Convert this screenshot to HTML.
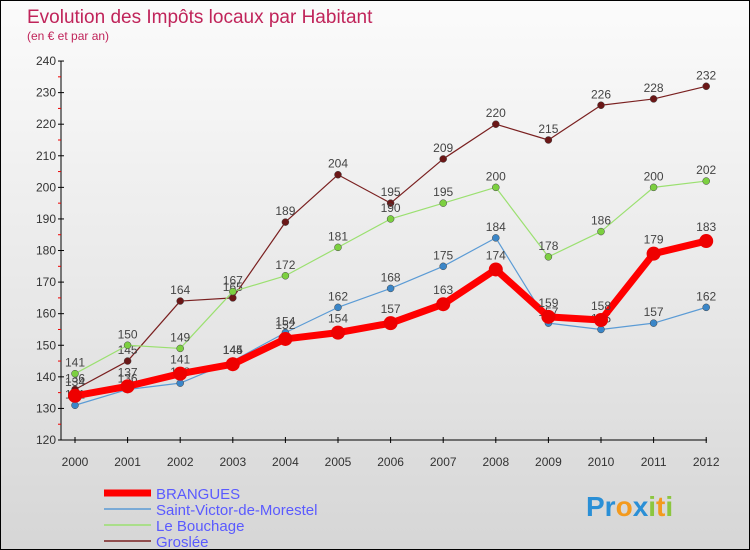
<!DOCTYPE html>
<html><head><meta charset="utf-8"><style>
body{margin:0}
#c{width:748px;height:548px;border:1px solid #000;background:linear-gradient(#fbfbfb,#e6e6e6 60%,#d6d6d6);position:relative;font-family:"Liberation Sans",sans-serif;overflow:hidden}
svg{position:absolute;left:0;top:0}
</style></head><body>
<div id="c">
<svg id="s" width="748" height="548">
<text x="26" y="22" font-size="19" fill="#c0245a">Evolution des Impôts locaux par Habitant</text>
<text x="26" y="39" font-size="12" fill="#c0245a">(en € et par an)</text>
<text x="585" y="515" font-size="28" font-weight="bold"><tspan fill="#2a8fd6">Pr</tspan><tspan fill="#f39a1e">o</tspan><tspan fill="#2a8fd6">x</tspan><tspan fill="#8cc63f">i</tspan><tspan fill="#f39a1e">t</tspan><tspan fill="#8cc63f">i</tspan></text>
</svg>
</div>
<script>
const years=[2000,2001,2002,2003,2004,2005,2006,2007,2008,2009,2010,2011,2012];
const yTicks=[120,130,140,150,160,170,180,190,200,210,220,230,240];
const brangues=[134,137,141,144,152,154,157,163,174,159,158,179,183];
const stVictor=[131,136,138,145,154,162,168,175,184,157,155,157,162];
const bouchage=[141,150,149,167,172,181,190,195,200,178,186,200,202];
const groslee=[136,145,164,165,189,204,195,209,220,215,226,228,232];
const names=["BRANGUES","Saint-Victor-de-Morestel","Le Bouchage","Groslée"];
const NS="http://www.w3.org/2000/svg";
const svg=document.getElementById('s');
const X=i=>74+i*52.6, Y=v=>439-(v-120)*3.158;
function mk(t,a,p){const e=document.createElementNS(NS,t);for(const k in a)e.setAttribute(k,a[k]);(p||svg).appendChild(e);return e;}
// axes
let ax=mk('line',{x1:60,y1:60,x2:60,y2:439,stroke:'#000','stroke-width':1});

let bx=mk('line',{x1:60,y1:439,x2:706,y2:439,stroke:'#000','stroke-width':1});

yTicks.forEach((v,i)=>{
 mk('line',{x1:57,y1:Y(v),x2:63,y2:Y(v),stroke:'#000'});
 if(i<yTicks.length-1)mk('line',{x1:57,y1:Y(v+5),x2:60,y2:Y(v+5),stroke:'#e00'});
 const t=mk('text',{x:55,y:Y(v)+4,'text-anchor':'end','font-size':12,fill:'#333'});t.textContent=v;
 
});
years.forEach((y,i)=>{
 mk('line',{x1:X(i),y1:436,x2:X(i),y2:442,stroke:'#000'});
 const t=mk('text',{x:X(i),y:465,'text-anchor':'middle','font-size':12,fill:'#333'});t.textContent=y;
 
});
const series=[
 {d:groslee,c:'#7a2020',w:1.2,r:3.5,f:'#6b1717',n:'groslee'},
 {d:bouchage,c:'#9be070',w:1.2,r:3.5,f:'#7cd040',n:'le-bouchage'},
 {d:stVictor,c:'#5b9bd5',w:1.2,r:3.5,f:'#3a86c8',n:'saint-victor'},
 {d:brangues,c:'#ff0000',w:7,r:7,f:'#ee0000',n:'brangues'}
];
series.forEach(s=>{
 const p=mk('polyline',{points:s.d.map((v,i)=>X(i)+','+Y(v)).join(' '),fill:'none',stroke:s.c,'stroke-width':s.w,'stroke-linejoin':'round'});
 
 s.d.forEach((v,i)=>{
  const c=mk('circle',{cx:X(i),cy:Y(v),r:s.r,fill:s.f,stroke:s.w>2?'none':'#444','stroke-width':0.5});
  
  const t=mk('text',{x:X(i),y:Y(v)-7-(s.w>2?3:0),'text-anchor':'middle','font-size':12,fill:'#444'});t.textContent=v;
  
 });
});
const lc=['#ff0000','#5b9bd5','#9be070','#7a2020'],lw=[7,1.5,1.5,1.5],tc=['#5a5aff','#5a5aff','#5a5aff','#5a5aff'];
names.forEach((n,i)=>{
 const y=492+i*16;
 const l=mk('line',{x1:103,y1:y,x2:150,y2:y,stroke:lc[i],'stroke-width':lw[i]});
 
 const t=mk('text',{x:155,y:y+6,'font-size':15,fill:tc[i]});t.textContent=n;
 
});
</script>
</body></html>
